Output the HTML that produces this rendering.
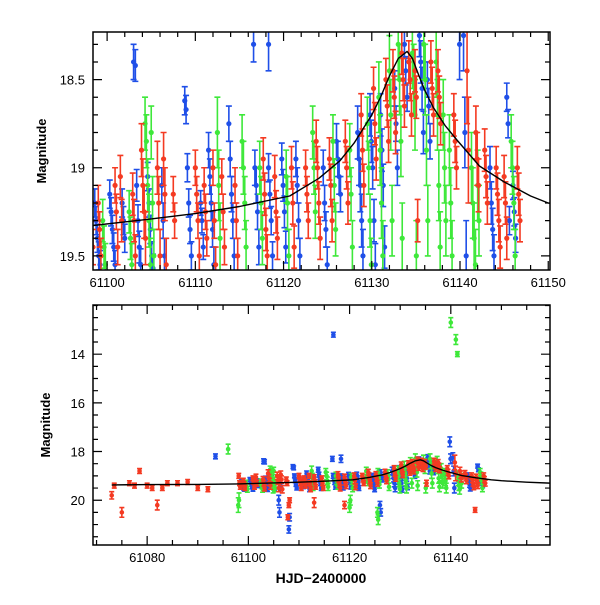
<!DOCTYPE html>
<html><head><meta charset="utf-8"><style>
html,body{margin:0;padding:0;background:#fff;}
svg text{font-family:"Liberation Sans",sans-serif;}
</style></head><body>
<svg id="chart" width="600" height="600" xmlns="http://www.w3.org/2000/svg">
<defs>
<clipPath id="clipTop"><rect x="93" y="32" width="457" height="238"/></clipPath>
<clipPath id="clipBot"><rect x="93" y="305" width="457" height="240"/></clipPath>
</defs>
</svg>
<script>
// model curve samples [HJD, mag]
const curveT=[61073,61080,61090,61098,61105,61110,61115,61120.7,61124,61126.4,61128,61130,61131,61132,61133,61134,61134.6,61135.2,61136,61137,61138.3,61139.6,61142.2,61145,61148,61150,61155,61160];
const curveM=[19.37,19.36,19.35,19.33,19.29,19.26,19.22,19.16,19.06,18.96,18.86,18.7,18.6,18.48,18.38,18.34,18.38,18.46,18.56,18.66,18.76,18.84,18.99,19.08,19.16,19.2,19.26,19.3];
// nights: [HJD, error, [mags]]
const blueNights=[
[61098.6,0.08,[19.2,19.3,19.4,19.5,19.55]],[61100.3,0.08,[19.15,19.25,19.35,19.45,19.55]],[61101.7,0.08,[19.2,19.3,19.4]],
[61103.2,0.09,[18.42,19.1,19.3,19.45,19.55]],[61104.6,0.08,[19.05,19.2,19.35,19.5,19.57]],[61106.2,0.1,[19.1,19.3,19.5]],
[61108.8,0.08,[18.62,18.67,19.0,19.2,19.35,19.5]],[61110.6,0.07,[19.2,19.3,19.45]],[61111.5,0.1,[18.9,19.05,19.2,19.35,19.55]],
[61113.8,0.1,[18.75,18.95,19.15,19.3,19.5]],[61116.6,0.1,[18.3,19.0,19.1,19.25,19.45]],[61118.3,0.08,[19.0,19.15,19.3,19.5]],
[61119.8,0.09,[18.95,19.1,19.25,19.45]],[61121.4,0.1,[18.95,19.1,19.3,19.5]],[61124.5,0.1,[19.0,19.2,19.35,19.55]],
[61126.0,0.1,[18.85,18.95,19.05,19.15]],[61128.4,0.15,[18.8,18.95,19.1,19.3,19.5]],[61129.8,0.12,[18.7,18.85,19.0,19.3,19.55]],
[61131.0,0.12,[18.7,18.9,19.1,19.45]],[61132.6,0.1,[18.55,18.75,19.0]],[61133.7,0.08,[18.3,18.45,18.6]],
[61135.4,0.12,[18.25,18.4,18.55,18.8]],[61136.3,0.1,[18.5,18.65,18.85]],[61140.4,0.2,[18.25,18.8,19.5]],
[61143.4,0.12,[19.0,19.2,19.35,19.5]],[61145.3,0.08,[18.6,18.75,19.3]],[61146.0,0.08,[19.1,19.25,19.4]],
[61093.5,0.1,[18.2]],[61108.0,0.15,[21.2,20.7]],[61116.8,0.1,[13.2]],[61118.3,0.15,[18.3]],[61103,0.1,[18.4]],
[61139.8,0.2,[17.6,18.3]],[61106,0.2,[20.0,20.5]],[61126,0.15,[20.2,20.5]]];
const greenNights=[
[61099.5,0.12,[19.3,19.45,19.55]],[61102.5,0.12,[19.25,19.4,19.55]],[61104.3,0.15,[18.75,18.85,19.1,19.3,19.55]],
[61105.0,0.15,[18.8,19.2,19.5]],[61112.5,0.2,[18.8,19.1,19.4]],[61115.3,0.15,[18.85,19.0,19.2,19.45]],
[61117.3,0.15,[19.0,19.2,19.4]],[61120.3,0.15,[19.05,19.2,19.5]],[61123.3,0.15,[18.8,19.0,19.25]],
[61125.6,0.15,[18.85,19.1,19.35]],[61127.5,0.15,[18.9,19.15,19.45]],[61129.5,0.15,[18.75,19.0,19.3,19.55]],
[61130.8,0.2,[18.6,18.9,19.2,19.5]],[61132.0,0.2,[18.45,18.7,19.3]],[61133.0,0.2,[18.3,18.5,18.85,19.4]],
[61134.6,0.2,[18.35,18.5,18.7,19.5]],[61135.9,0.2,[18.3,18.5,18.9,19.3]],[61137.3,0.2,[18.4,18.7,19.1,19.45]],
[61138.1,0.2,[18.7,19.0,19.3]],[61138.8,0.2,[18.9,19.2,19.5]],[61141.3,0.2,[19.0,19.2,19.4,19.55]],
[61142.0,0.2,[19.1,19.3]],[61145.8,0.15,[18.85,19.0,19.2,19.5]],
[61096,0.2,[17.9]],[61140,0.2,[12.7]],[61141,0.2,[13.4]],[61141.3,0.1,[14.0]],[61098,0.3,[20.2,20.0]],
[61120,0.2,[20.3,20.0]],[61125.5,0.2,[20.5,20.8]]];
const redNights=[
[61073,0.15,[19.8]],[61073.5,0.1,[19.4]],[61075,0.2,[20.5]],[61076.5,0.1,[19.3]],[61077.5,0.1,[19.4]],[61078.5,0.1,[18.8]],
[61080,0.1,[19.4]],[61081,0.1,[19.5]],[61082,0.2,[20.2]],[61083,0.1,[19.5]],[61084,0.1,[19.3]],[61086,0.1,[19.3]],
[61088,0.1,[19.25]],[61090,0.1,[19.5]],[61092,0.1,[19.55]],
[61098.1,0.1,[19.0,19.3,19.45]],[61099.0,0.1,[19.2,19.35,19.5]],[61100.9,0.1,[19.1,19.25,19.45]],[61101.5,0.12,[19.05,19.3]],
[61102.9,0.12,[19.15,19.3,19.5]],[61103.9,0.15,[18.9,19.1,19.25,19.4]],[61105.7,0.15,[19.0,19.2,19.5]],
[61106.4,0.15,[18.95,19.15,19.55]],[61107.5,0.1,[19.15,19.3]],[61110.0,0.1,[19.0,19.15,19.3,19.5]],
[61111.0,0.1,[19.1,19.25,19.4]],[61112.0,0.1,[19.0,19.3,19.55]],[61113.0,0.1,[19.05,19.25,19.45]],
[61114.5,0.1,[19.1,19.3,19.5]],[61117.7,0.12,[18.95,19.15,19.35,19.5]],[61119.0,0.12,[19.05,19.25,19.4]],
[61120.9,0.12,[19.0,19.2,19.45]],[61122.5,0.1,[19.0,19.15,19.3]],[61123.7,0.12,[18.85,19.0,19.2,19.4]],
[61125.2,0.12,[18.95,19.1,19.3]],[61127.0,0.12,[18.85,19.0,19.2]],[61128.8,0.12,[18.7,18.9,19.1]],
[61130.2,0.12,[18.55,18.75,18.95]],[61131.6,0.12,[18.5,18.65,18.85]],[61132.4,0.12,[18.45,18.6,18.8]],
[61133.4,0.12,[18.35,18.5,18.65]],[61134.2,0.12,[18.4,18.5,18.7]],[61134.9,0.12,[18.45,18.6,19.3]],
[61136.7,0.12,[18.4,18.55,18.7]],[61137.5,0.12,[18.45,18.6,18.75]],[61139.3,0.12,[18.7,18.85,19.0]],
[61140.8,0.3,[18.45,18.9]],[61141.8,0.15,[18.8,18.95,19.1]],[61142.8,0.12,[18.9,19.05,19.2]],
[61144.1,0.12,[19.0,19.15,19.3,19.45]],[61145.0,0.12,[19.05,19.2,19.4]],[61146.5,0.12,[19.0,19.15,19.3]],
[61107.8,0.1,[20.7]],[61144.8,0.1,[20.4]],[61108,0.1,[20.2,20.0]],[61113,0.2,[20.1]],[61119,0.15,[20.2]]];
const topXTicks=[61100,61110,61120,61130,61140,61150];
const topYTicks=[18.5,19,19.5];
const botXTicks=[61080,61100,61120,61140];
const botYTicks=[14,16,18,20];

const NS="http://www.w3.org/2000/svg";
const svg=document.getElementById('chart');
function mk(tag,attrs,parent){const e=document.createElementNS(NS,tag);for(const k in attrs)e.setAttribute(k,attrs[k]);(parent||svg).appendChild(e);return e;}
const panels=[
 {name:'top',x0:93,x1:550,y0:32,y1:270,t0:61098.4,t1:61150.2,m0:18.23,m1:19.58,clip:'clipTop',xt:topXTicks,yt:topYTicks,xminor:2,yminor:0.1,r:2.6,cap:3,tx:46},
 {name:'bottom',x0:93,x1:550,y0:305,y1:545,t0:61069.3,t1:61159.6,m0:11.98,m1:21.84,clip:'clipBot',xt:botXTicks,yt:botYTicks,xminor:5,yminor:0.5,r:2.3,cap:2.5,tx:50}];
const colors={blue:'#1f4fe8',green:'#3ee83a',red:'#f43a22'};
panels.forEach(p=>{
 const X=t=>p.x0+(t-p.t0)/(p.t1-p.t0)*(p.x1-p.x0);
 const Y=m=>p.y0+(m-p.m0)/(p.m1-p.m0)*(p.y1-p.y0);
 const g=mk('g',{'clip-path':'url(#'+p.clip+')'});
 
 
 [['blue',blueNights],['green',greenNights],['red',redNights]].forEach(([c,nights])=>{
  const sg=mk('g',{fill:colors[c],stroke:colors[c],'stroke-width':1.6},g);
  
  
  nights.forEach(n=>{
   n[2].forEach((m,i)=>{
    const x=X(n[0]+i*0.15),y=Y(m),ya=Y(m-n[1]),yb=Y(m+n[1]);
    mk('path',{d:`M${x},${ya}V${yb}M${x-p.cap},${ya}H${x+p.cap}M${x-p.cap},${yb}H${x+p.cap}`,fill:'none'},sg);
    const pt=mk('circle',{cx:x,cy:y,r:p.r,stroke:'none'},sg);
    
    
   });
  });
 });
 let d='';curveT.forEach((t,i)=>{d+=(i?'L':'M')+X(t).toFixed(1)+','+Y(curveM[i]).toFixed(1);});
 const cv=mk('path',{d:d,fill:'none',stroke:'#000','stroke-width':1.4,'stroke-linejoin':'round'},g);
 
 
 const fr=mk('rect',{x:p.x0,y:p.y0,width:p.x1-p.x0,height:p.y1-p.y0,fill:'none',stroke:'#000','stroke-width':1.5});
 
 
 const ax=mk('g',{stroke:'#000','stroke-width':1.2});
 
 
 for(let t=Math.ceil(p.t0/p.xminor)*p.xminor;t<=p.t1;t+=p.xminor){
  const x=X(t),major=p.xt.some(v=>Math.abs(v-t)<1e-6),L=major?9:5;
  mk('path',{d:`M${x},${p.y1}v${-L}M${x},${p.y0}v${L}`},ax);
 }
 for(let k=Math.ceil(p.m0/p.yminor);k*p.yminor<=p.m1;k++){
  const m=k*p.yminor,y=Y(m),major=p.yt.some(v=>Math.abs(v-m)<1e-6),L=major?9:5;
  mk('path',{d:`M${p.x0},${y}h${L}M${p.x1},${y}h${-L}`},ax);
 }
 p.xt.forEach(t=>{const tx=mk('text',{x:X(t),y:p.y1+17,'text-anchor':'middle','font-size':13});tx.textContent=t;
  });
 p.yt.forEach(m=>{const tx=mk('text',{x:p.x0-8,y:Y(m)+5,'text-anchor':'end','font-size':13});tx.textContent=m;
  });
 const yl=mk('text',{x:0,y:0,transform:`translate(${p.tx},${(p.y0+p.y1)/2}) rotate(-90)`,'text-anchor':'middle','font-size':13,'font-weight':'bold'});
 yl.textContent='Magnitude';
 
 
});
const xl=mk('text',{x:321,y:583,'text-anchor':'middle','font-size':14,'font-weight':'bold'});
xl.textContent='HJD\u22122400000';


</script>
</body></html>
